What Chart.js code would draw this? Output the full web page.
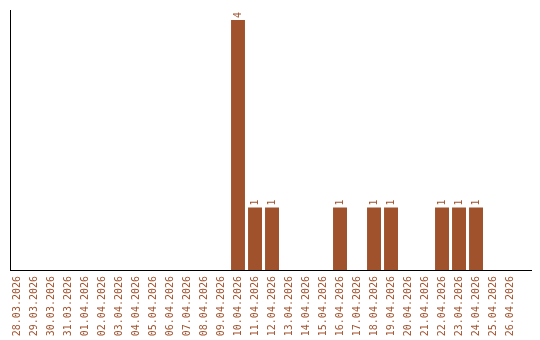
<!doctype html>
<html lang="en">

<head>
  <meta charset="UTF-8">
  <title>Counts per day</title>
  <style>
    html,
    body {
      margin: 0;
      padding: 0;
      background-color: #fff;
    }
  </style>
</head>

<body>
  <canvas id="datavis" width="540" height="340" style="width:540px;height:340px"></canvas>

  <script src="https://cdn.jsdelivr.net/npm/chart.js@4/dist/chart.umd.min.js"></script>

  <script>
    const dates = [
      '28.03.2026', '29.03.2026', '30.03.2026', '31.03.2026', '01.04.2026',
      '02.04.2026', '03.04.2026', '04.04.2026', '05.04.2026', '06.04.2026',
      '07.04.2026', '08.04.2026', '09.04.2026', '10.04.2026', '11.04.2026',
      '12.04.2026', '13.04.2026', '14.04.2026', '15.04.2026', '16.04.2026',
      '17.04.2026', '18.04.2026', '19.04.2026', '20.04.2026', '21.04.2026',
      '22.04.2026', '23.04.2026', '24.04.2026', '25.04.2026', '26.04.2026'
    ];
    const counts = [
      0, 0, 0, 0, 0,
      0, 0, 0, 0, 0,
      0, 0, 0, 4, 1,
      1, 0, 0, 0, 1,
      0, 1, 1, 0, 0,
      1, 1, 1, 0, 0
    ];

    const brown = '#a0522d';
    const mono = '"DejaVu Sans Mono", "Liberation Mono", monospace';

    // write the value above each bar, turned like the date labels
    const valueLabels = {
      id: 'valueLabels',
      afterDatasetsDraw(chart) {
        const ctx = chart.ctx;
        const meta = chart.getDatasetMeta(0);
        ctx.save();
        ctx.fillStyle = brown;
        ctx.font = '10px ' + mono;
        ctx.textAlign = 'left';
        ctx.textBaseline = 'middle';
        meta.data.forEach(function (bar, i) {
          if (!counts[i]) return;
          ctx.save();
          ctx.translate(bar.x, bar.y - 2);
          ctx.rotate(-Math.PI / 2);
          ctx.fillText(String(counts[i]), 0, 0);
          ctx.restore();
        });
        ctx.restore();
      }
    };

    new Chart('datavis', {
      type: 'bar',
      data: {
        datasets: [{
          data: counts.map((c, i) => ({ x: i, y: c })),
          backgroundColor: brown,
          borderWidth: 0,
          barPercentage: 0.82,
          categoryPercentage: 1
        }]
      },
      plugins: [valueLabels],
      options: {
        responsive: false,
        animation: false,
        layout: { padding: { left: 10, top: 10, right: 9, bottom: 0 } },
        plugins: {
          legend: { display: false },
          tooltip: { enabled: false }
        },
        scales: {
          x: {
            type: 'linear',
            bounds: 'data',
            offset: false,
            min: -0.412,
            max: 30.235,
            grid: { display: false, drawTicks: false, offset: false },
            border: { display: true, color: '#000', width: 1 },
            afterBuildTicks: function (scale) {
              scale.ticks = dates.map((d, i) => ({ value: i }));
            },
            afterFit: function (scale) {
              // no extra room for the turned end labels, fixed band height
              scale.paddingLeft = 0;
              scale.paddingRight = 0;
              scale.height = 70;
            },
            ticks: {
              autoSkip: false,
              minRotation: 90,
              maxRotation: 90,
              padding: 6,
              color: brown,
              font: { family: mono, size: 10 },
              callback: function (value) { return dates[value]; }
            }
          },
          y: {
            min: 0,
            max: 4.16,
            grid: { display: false, drawTicks: false },
            border: { display: true, color: '#000', width: 1 },
            ticks: { display: false }
          }
        }
      }
    });
  </script>
</body>

</html>
